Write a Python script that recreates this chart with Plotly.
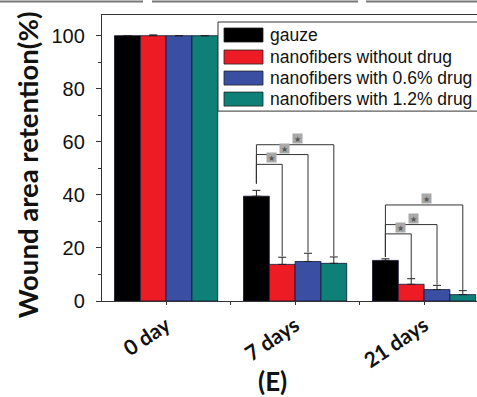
import plotly.graph_objects as go

# ---------------- data ----------------
categories = ["0 day", "7 days", "21 days"]
series_names = ["gauze", "nanofibers without drug",
                "nanofibers with 0.6% drug", "nanofibers with 1.2% drug"]
gauze = [100, 39.5, 15.3]
no_drug = [100, 13.8, 6.3]
drug_06 = [100, 14.9, 4.3]
drug_12 = [100, 14.2, 2.4]
gauze_err = [0, 2.2, 0.6]
no_drug_err = [0.3, 2.7, 2.1]
drug_06_err = [0, 3.1, 1.6]
drug_12_err = [0, 2.4, 1.5]
colors = ["#000000", "#ED1C24", "#3B4FA2", "#0E8078"]

# significance brackets: (group index, target series index, bracket level, left foot, right foot)
brackets = [
    (1, 1, 51.5, 44.3, 16.8), (1, 2, 55.2, 44.3, 18.4), (1, 3, 58.9, 44.3, 16.9),
    (2, 1, 25.3, 16.6, 8.6), (2, 2, 28.8, 16.6, 6.2), (2, 3, 36.2, 16.6, 4.2),
]

values = [gauze, no_drug, drug_06, drug_12]
errors = [gauze_err, no_drug_err, drug_06_err, drug_12_err]

# ---------------- geometry helpers (pixel -> paper) ----------------
W, H = 477, 397
L, T, R, B = 102, 15, 477, 300.7
PW, PH = R - L, B - T


def px(x):
    return (x - L) / PW


def py(y):
    return (B - y) / PH


bar_w = 0.2
offsets = [-0.3, -0.1, 0.1, 0.3]
xidx = list(range(len(categories)))

fig = go.Figure()
for name, vals, errs, col, off in zip(series_names, values, errors, colors, offsets):
    fig.add_trace(go.Bar(
        x=[i + off for i in xidx], y=vals, width=bar_w, name=name,
        marker=dict(color=col, line=dict(color="#111133", width=0.8)),
        error_y=dict(type="data", array=errs, symmetric=False,
                     arrayminus=[0] * len(errs), color="#222222",
                     thickness=1, width=4),
        showlegend=False,
    ))

shapes = []
annotations = []
line_col = "#333333"
for g, s, level, lfoot, rfoot in brackets:
    x0 = g + offsets[0]
    x1 = g + offsets[s]
    shapes.append(dict(type="line", xref="x", yref="y", x0=x0, x1=x0, y0=lfoot, y1=level,
                       line=dict(color=line_col, width=1)))
    shapes.append(dict(type="line", xref="x", yref="y", x0=x0, x1=x1, y0=level, y1=level,
                       line=dict(color=line_col, width=1)))
    shapes.append(dict(type="line", xref="x", yref="y", x0=x1, x1=x1, y0=level, y1=rfoot,
                       line=dict(color=line_col, width=1)))
    annotations.append(dict(x=(x0 + x1) / 2 + 0.02, y=level, xref="x", yref="y",
                            xanchor="center", yanchor="bottom", yshift=1, text="★",
                            showarrow=False,
                            font=dict(size=8, color="#555555"), bgcolor="#A8A8A8",
                            width=9, height=9, borderpad=0))

# legend box (custom, to match swatch shape)
shapes.append(dict(type="rect", xref="paper", yref="paper", x0=px(218), x1=px(490),
                   y0=py(111), y1=py(22), fillcolor="white",
                   line=dict(color="#333333", width=1), layer="above"))
row_y = [35, 57, 78, 99]
for name, col, ry in zip(series_names, colors, row_y):
    shapes.append(dict(type="rect", xref="paper", yref="paper", x0=px(224), x1=px(263),
                       y0=py(ry + 7), y1=py(ry - 7), fillcolor=col,
                       line=dict(color="#222222", width=0.8), layer="above"))
    annotations.append(dict(x=px(268), y=py(ry), xref="paper", yref="paper",
                            xanchor="left", yanchor="middle", text=name, showarrow=False,
                            font=dict(family="Liberation Sans, Arial", size=17.5,
                                      color="#111111")))

# cropped panel edges at the very top
for a, b in [(0, 143), (152, 358), (366, 477)]:
    shapes.append(dict(type="line", xref="paper", yref="paper", x0=px(a), x1=px(b),
                       y0=py(1.5), y1=py(1.5), line=dict(color="#777777", width=2)))

# axis title and panel label
annotations.append(dict(x=px(27), y=py(165), xref="paper", yref="paper",
                        xanchor="center", yanchor="middle",
                        text="<b>Wound area retention(%)</b>", textangle=-90,
                        showarrow=False, font=dict(family="Lato", size=27.5, color="#111111")))
annotations.append(dict(x=px(272), y=py(381), xref="paper", yref="paper",
                        xanchor="center", yanchor="middle",
                        text="<b>(E)</b>", showarrow=False,
                        font=dict(family="Lato", size=26, color="#111111")))

fig.update_layout(
    width=W, height=H,
    margin=dict(l=L, r=W - R, t=T, b=H - B, pad=0),
    paper_bgcolor="white", plot_bgcolor="white",
    barmode="overlay",
    shapes=shapes, annotations=annotations,
    xaxis=dict(range=[-0.497, 2.41], tickmode="array", tickvals=xidx, ticktext=categories,
               tickangle=-34, showline=True, mirror=True, linecolor="#333333", linewidth=1.3,
               ticks="outside", ticklen=3, tickcolor="#333333", showgrid=False, zeroline=False,
               automargin=False,
               tickfont=dict(family="Lato", size=21, color="#111111", weight="bold"),
               minor=dict(tickmode="array", tickvals=[-0.5, 0.5, 1.5], ticks="outside",
                          ticklen=3, tickcolor="#333333")),
    yaxis=dict(range=[0, 107.8], tickvals=[0, 20, 40, 60, 80, 100], showline=True,
               linecolor="#333333", linewidth=1.3, ticks="outside", ticklen=5,
               tickcolor="#333333", showgrid=False, zeroline=False, automargin=False,
               ticklabelstandoff=7,
               tickfont=dict(family="Liberation Sans, Arial", size=20, color="#111111"),
               minor=dict(dtick=10, tick0=0, ticks="outside", ticklen=3,
                          tickcolor="#333333", showgrid=False)),
)

fig.write_html("out.html", config={"displayModeBar": False},
               post_script="document.body.style.margin='0px';document.body.style.overflow='hidden';")
